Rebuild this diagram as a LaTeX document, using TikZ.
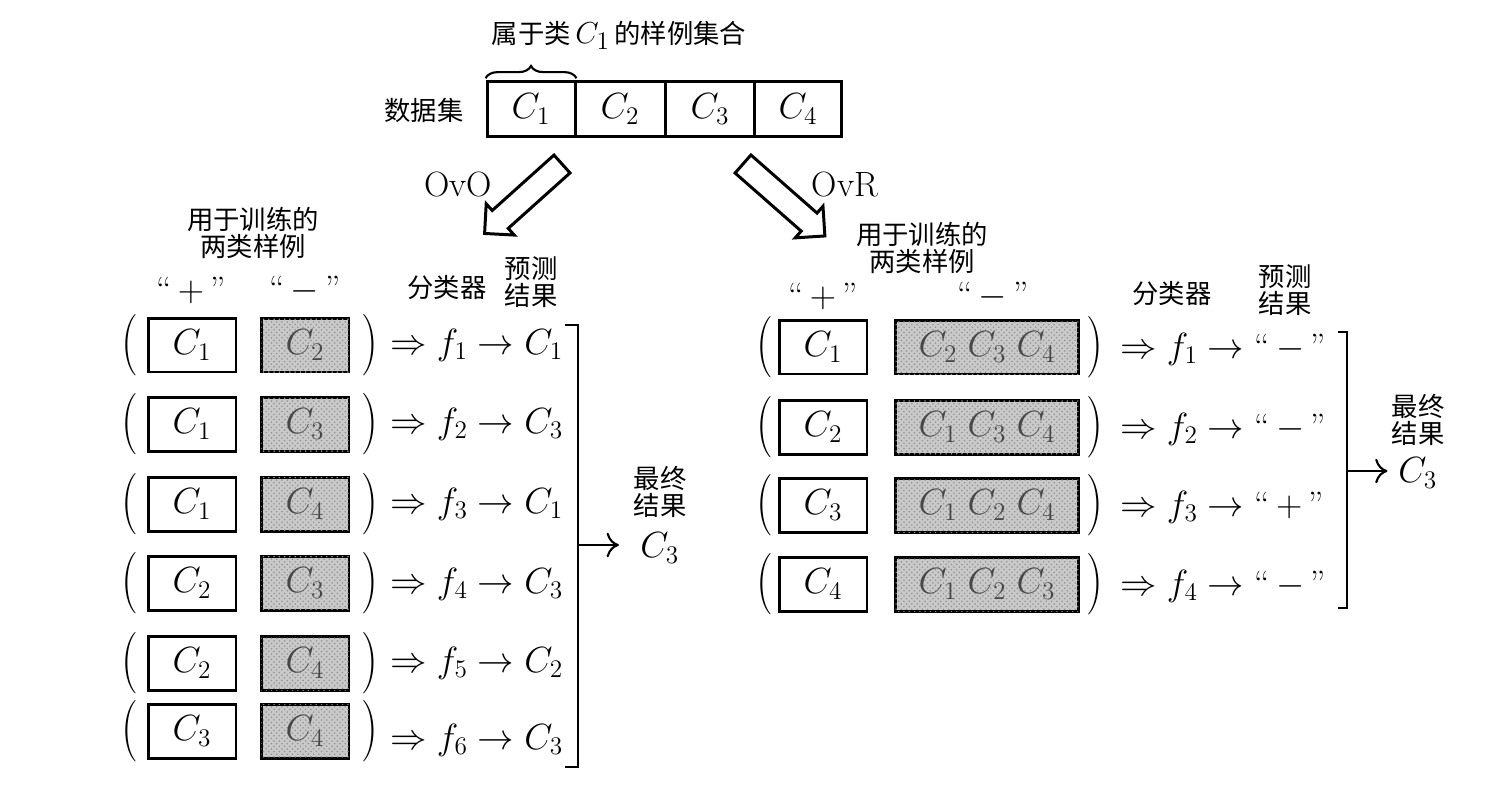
\documentclass[tikz,border=0pt]{standalone}
\usepackage{graphicx}
\usepackage{fontspec}
\newfontfamily\cjk{Noto Sans CJK SC}
\usetikzlibrary{decorations.pathreplacing,arrows.meta,patterns}
\newcommand\myLP{\scalebox{1.35}[1.75]{(}}
\newcommand\myRP{\scalebox{1.35}[1.75]{)}}
\begin{document}
\begin{tikzpicture}[x=0.02cm,y=-0.02cm,
  cj/.style={font=\cjk\fontsize{15}{15.5}\selectfont, inner sep=0pt, align=center},
  mt/.style={font=\fontsize{20}{24}\selectfont, inner sep=0pt},
  qt/.style={font=\fontsize{20}{24}\selectfont, inner sep=0pt},
  ovlab/.style={font=\fontsize{20}{24}\selectfont, inner sep=0pt},
  dcell/.style={draw, line width=1.7pt, minimum height=1.1cm, inner sep=0pt, font=\fontsize{20}{24}\selectfont},
  wbox/.style={draw, line width=1.7pt, minimum width=1.76cm, minimum height=1.08cm, inner sep=0pt, font=\fontsize{20}{24}\selectfont},
  gbox/.style={wbox, fill=gray!42, postaction={pattern=crosshatch dots, pattern color=gray!85}, text=black!72},
  gboxw/.style={gbox, minimum width=3.66cm},
  par/.style={font=\fontsize{20}{24}\selectfont, inner sep=0pt},
  hollow/.style={draw, line width=1.7pt, fill=white, line join=miter},
  brk/.style={line width=1.2pt},
  arr/.style={line width=1.2pt, -{Computer Modern Rightarrow[length=7pt,width=14pt]}}
]
\useasboundingbox (0,0) rectangle (1498,799);

% ---------- top dataset ----------
\node[cj] (title) at (619,35) {属于类\,{\fontsize{19}{22}\selectfont$C_1$}\,的样例集合};
\node[cj] (dl) at (424,110) {数据集};
\node[dcell, minimum width=1.76cm] (d1) at (531,109) {$C_1$};
\node[dcell, minimum width=1.80cm] (d2) at (620,109) {$C_2$};
\node[dcell, minimum width=1.80cm] (d3) at (710,109) {$C_3$};
\node[dcell, minimum width=1.74cm] (d4) at (798,109) {$C_4$};
\draw[line width=1.2pt, decorate, decoration={brace, amplitude=7pt, raise=1pt}] (d1.north west) -- (d1.north east);

% ---------- hollow arrows ----------
\begin{scope}[shift={(562,164)}, rotate=221.9]
  \draw[hollow] (0,-12) -- (83,-12) -- (83,-21) -- (104,0) -- (83,21) -- (83,12) -- (0,12) -- cycle;
\end{scope}
\begin{scope}[shift={(743,164)}, rotate=-41.3]
  \draw[hollow] (0,-12) -- (88,-12) -- (88,-21) -- (109,0) -- (88,21) -- (88,12) -- (0,12) -- cycle;
\end{scope}
\node[ovlab] (ovo) at (458,184) {OvO};
\node[ovlab] (ovr) at (845,184) {OvR};

% ---------- OvO (left) ----------
\node[cj] (lhead) at (253,233) {用于训练的\\两类样例};
\node[qt] (lplus) at (191,290) {“$\,+\,$”};
\node[qt] (lminus) at (305,290) {“$\,-\,$”};
\node[cj] (lclf) at (447,288) {分类器};
\node[cj] (lpred) at (531,282) {预测\\结果};

\foreach \i/\y/\ty/\a/\b/\r in {1/345/345/1/2/1, 2/424/424/1/3/3, 3/504/504/1/4/1, 4/583/584/2/3/3, 5/663/663/2/4/2, 6/731/740/3/4/3}{
  \node[par] (lpl\i) at (130,\y) {\myLP};
  \node[wbox] (lw\i) at (192,\y) {$C_{\a}$};
  \node[gbox] (lg\i) at (305,\y) {$C_{\b}$};
  \node[par] (lpr\i) at (370,\y) {\myRP};
  \node[mt, anchor=west] (lr\i) at (390,\ty) {$\Rightarrow f_{\i}\rightarrow C_{\r}$};
}
\coordinate (lbt0) at (565,325);
\coordinate (lbt) at (578,325);
\coordinate (lbb) at (578,767);
\coordinate (lbb0) at (565,767);
\coordinate (lmid) at (578,545);
\draw[brk] (lbt0) -- (lbt) -- (lbb) -- (lbb0);
\node[cj] (lfin) at (660,492) {最终\\结果};
\node[mt, anchor=west] (lC3) at (640,548) {$C_3$};
\draw[arr, shorten >=12pt] (lmid) -- (lmid -| lC3.west);

% ---------- OvR (right) ----------
\node[cj] (rhead) at (922,248) {用于训练的\\两类样例};
\node[qt] (rplus) at (823,296) {“$\,+\,$”};
\node[qt] (rminus) at (993,296) {“$\,-\,$”};
\node[cj] (rclf) at (1172,294) {分类器};
\node[cj] (rpred) at (1285,290) {预测\\结果};

\foreach \i/\y/\a/\rest/\res in {1/347/1/{C_2\;C_3\;C_4}/-, 2/427/2/{C_1\;C_3\;C_4}/-, 3/505/3/{C_1\;C_2\;C_4}/+, 4/584/4/{C_1\;C_2\;C_3}/-}{
  \node[par] (rpl\i) at (765,\y) {\myLP};
  \node[wbox] (rw\i) at (823,\y) {$C_{\a}$};
  \node[gboxw] (rg\i) at (987,\y) {$\rest$};
  \node[par] (rpr\i) at (1095,\y) {\myRP};
  \node[mt, anchor=west] (rr\i) at (1120,\y+2) {$\Rightarrow f_{\i}\rightarrow$ “$\,\res\,$”};
}
\coordinate (rbt0) at (1338,332);
\coordinate (rbt) at (1347,332);
\coordinate (rbb) at (1347,608);
\coordinate (rbb0) at (1338,608);
\coordinate (rmid) at (1347,471);
\draw[brk] (rbt0) -- (rbt) -- (rbb) -- (rbb0);
\node[cj] (rfin) at (1418,420) {最终\\结果};
\node[mt, anchor=west] (rC3) at (1398,473) {$C_3$};
\draw[arr, shorten >=6pt] (rmid) -- (rmid -| rC3.west);
\end{tikzpicture}
\end{document}
